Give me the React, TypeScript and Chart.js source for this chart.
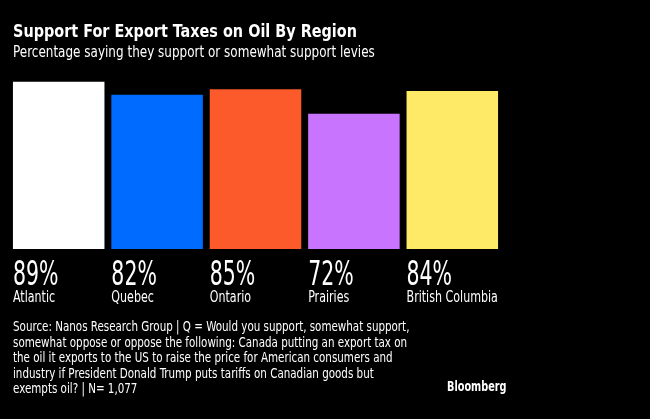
import React, { useEffect, useRef } from "react";
import { Chart, registerables } from "chart.js";

Chart.register(...registerables);

const regions = ["Atlantic", "Quebec", "Ontario", "Prairies", "British Columbia"];
const support = [89, 82, 85, 72, 84];
const barColors = ["#ffffff", "#006bff", "#fc5a2b", "#c874ff", "#ffea68"];
const titleText = "Support For Export Taxes on Oil By Region";
const subtitleText = "Percentage saying they support or somewhat support levies";
const sourceLines = [
  "Source: Nanos Research Group | Q = Would you support, somewhat support,",
  "somewhat oppose or oppose the following: Canada putting an export tax on",
  "the oil it exports to the US to raise the price for American consumers and",
  "industry if President Donald Trump puts tariffs on Canadian goods but",
  "exempts oil? | N= 1,077",
];
const brand = "Bloomberg";

const FONT = "'DejaVu Sans Condensed', 'DejaVu Sans', sans-serif";

function drawText(ctx: CanvasRenderingContext2D, text: string, x: number, y: number, font: string, sx: number) {
  ctx.save();
  ctx.font = font;
  ctx.translate(x, y);
  ctx.scale(sx, 1);
  ctx.fillText(text, 0, 0);
  ctx.restore();
}

export default function App() {
  const ref = useRef<HTMLCanvasElement | null>(null);
  useEffect(() => {
    document.body.style.margin = "0";
    const canvas = ref.current!;
    const textPlugin = {
      id: "texts",
      afterDraw(chart: any) {
        const ctx = chart.ctx as CanvasRenderingContext2D;
        ctx.save();
        ctx.fillStyle = "#ffffff";
        ctx.textAlign = "left";
        ctx.textBaseline = "alphabetic";
        drawText(ctx, titleText, 13, 37, `bold 18px ${FONT}`, 0.89);
        drawText(ctx, subtitleText, 13, 57, `15px ${FONT}`, 0.89);
        const meta = chart.getDatasetMeta(0);
        meta.data.forEach((bar: any, i: number) => {
          const left = bar.x - bar.width / 2;
          drawText(ctx, `${support[i]}%`, left, 285, `34px ${FONT}`, 0.67);
          drawText(ctx, regions[i], left, 302, `16px ${FONT}`, 0.77);
        });
        sourceLines.forEach((l, i) => drawText(ctx, l, 13, 331 + i * 15.6, `14px ${FONT}`, 0.82));
        drawText(ctx, brand, 447, 390.5, `bold 13.5px ${FONT}`, 0.8);
        ctx.restore();
      },
    };
    const chart = new Chart(canvas, {
      type: "bar",
      data: {
        labels: regions,
        datasets: [
          {
            data: support,
            backgroundColor: barColors,
            borderWidth: 0,
            categoryPercentage: 0.93,
            barPercentage: 1.0,
          },
        ],
      },
      options: {
        responsive: false,
        animation: false,
        layout: { padding: { top: 61, bottom: 170, left: 9.5, right: 148.5 } },
        scales: {
          x: { display: false },
          y: { display: false, min: 0, max: 100 },
        },
        plugins: { legend: { display: false }, tooltip: { enabled: false }, title: { display: false } },
      },
      plugins: [textPlugin],
    });
    return () => chart.destroy();
  }, []);
  return (
    <div style={{ width: 650, height: 419, background: "#000000" }}>
      <canvas ref={ref} width={650} height={419} style={{ display: "block" }} />
    </div>
  );
}
